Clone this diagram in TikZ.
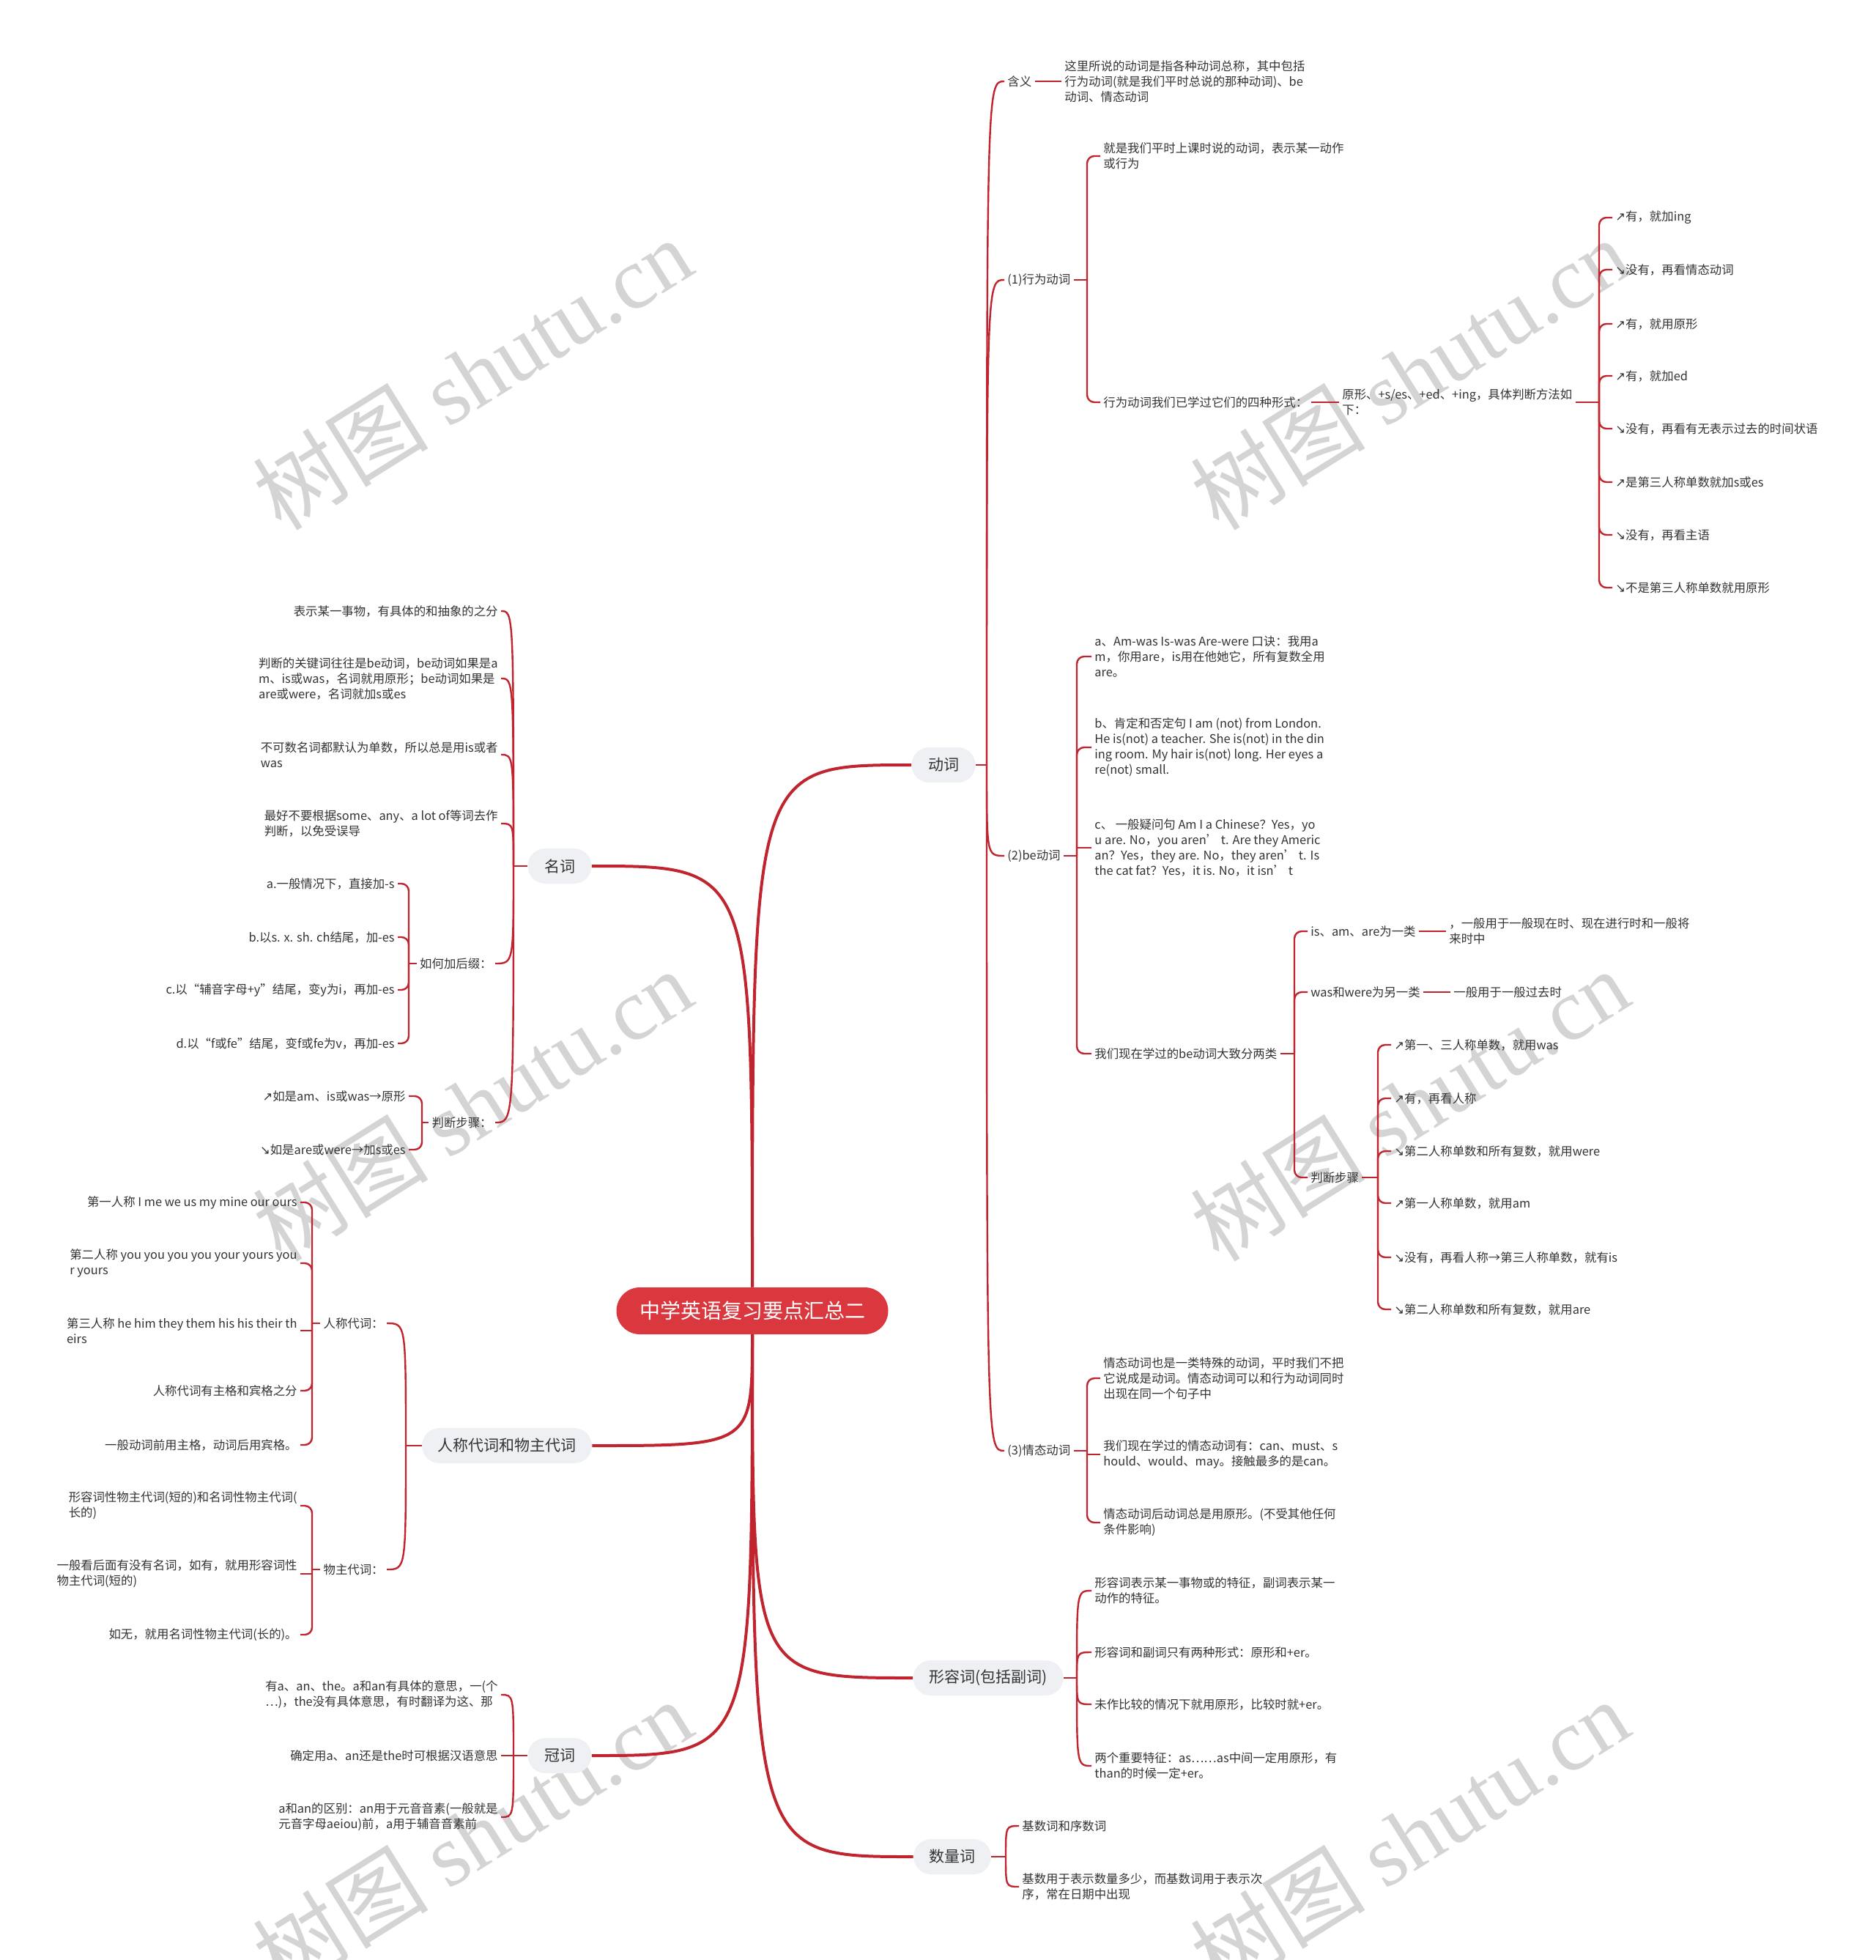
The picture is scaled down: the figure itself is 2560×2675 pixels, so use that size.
\documentclass[tikz,border=0pt]{standalone}
\usepackage{fontspec}
\setmainfont{Noto Sans CJK SC}
\newfontfamily\dv{DejaVu Sans}
\newfontfamily\wmser{Liberation Serif}
\usetikzlibrary{calc}
\definecolor{lred}{RGB}{192,36,46}
\definecolor{tred}{RGB}{218,56,62}
\definecolor{mgray}{RGB}{238,240,243}
\definecolor{txt}{RGB}{51,51,51}
\definecolor{wmc}{RGB}{212,212,212}
\tikzset{
  leaf/.style={font=\fontsize{8.2}{10.5}\selectfont, text=txt, inner sep=2pt, align=left},
  rl/.style={leaf, anchor=west},
  ll/.style={leaf, anchor=east},
  mainbox/.style={fill=mgray, rounded corners=12pt, minimum height=24pt, inner sep=0pt, font=\fontsize{10.5}{12}\selectfont, text=txt},
  titlebox/.style={fill=tred, rounded corners=16pt, minimum height=32pt, minimum width=185.5pt, inner sep=0pt, font=\fontsize{14}{16}\selectfont, text=white},
  conn/.style={draw=lred, line width=1.2pt},
  mconn/.style={draw=lred, line width=2pt},
  elb/.style={conn, rounded corners=5pt},
  wmk/.style={text=wmc, font=\fontsize{60}{66}\selectfont, rotate=32, inner sep=0pt}
}
% junction to the right of parent, placed #3 left of child #2
\newcommand\rj[3]{\draw[conn] (#1.east) -- ($(#1.east -| #2.west)+(-#3,0)$) coordinate (#1j);}
\newcommand\lj[3]{\draw[conn] (#1.west) -- ($(#1.west -| #2.east)+(#3,0)$) coordinate (#1j);}
\newcommand\cv[2]{\draw[conn] (#1j) .. controls (#1j |- #2) .. (#2);}
\newcommand\el[2]{\draw[elb] (#1j) |- (#2);}
\newcommand\es[2]{\draw[conn] (#1j) |- (#2);}
\begin{document}
\begin{tikzpicture}[x=0.5pt,y=-0.5pt]
\useasboundingbox (0,0) rectangle (2560,2675);
\fill[white] (0,0) rectangle (2560,2675);
% watermarks
\foreach \wx/\wy [count=\wi] in {645/510,1924/510,645/1508,1924/1508,645/2505,1924/2505}
  \node[wmk] (wm\wi) at (\wx,\wy) {树图 {\wmser shutu.cn}};

% title
\node[titlebox] (t) at (1027,1789) {中学英语复习要点汇总二};

% main nodes
\node[mainbox, minimum width=43.5pt] (dc) at (1288,1044) {动词};
\node[mainbox, minimum width=102.5pt] (e0) at (1349,2290) {形容词(包括副词)};
\node[mainbox, minimum width=53pt] (f0) at (1300,2534) {数量词};
\node[mainbox, minimum width=43.5pt] (g0) at (764,1182) {名词};
\node[mainbox, minimum width=116pt] (h0) at (692,1973) {人称代词和物主代词};
\node[mainbox, minimum width=43.5pt] (i0) at (764,2396) {冠词};

\draw[mconn] (t.north) .. controls (t.north |- dc.west) .. (dc.west);
\draw[mconn] (t.north) .. controls (t.north |- g0.east) .. (g0.east);
\draw[mconn] (t.south) .. controls (t.south |- h0.east) .. (h0.east);
\draw[mconn] (t.south) .. controls (t.south |- i0.east) .. (i0.east);
\draw[mconn] (t.south) .. controls (t.south |- e0.west) .. (e0.west);
\draw[mconn] (t.south) .. controls (t.south |- f0.west) .. (f0.west);

% ===== 动词 =====
\node[rl] (d1) at (1371,111) {含义};
\node[rl] (d1a) at (1449,111) {这里所说的动词是指各种动词总称，其中包括\\行为动词(就是我们平时总说的那种动词)、be\\动词、情态动词};
\node[rl] (d2) at (1371,382) {(1)行为动词};
\node[rl] (d2a) at (1502,213) {就是我们平时上课时说的动词，表示某一动作\\或行为};
\node[rl] (d2b) at (1502,549) {行为动词我们已学过它们的四种形式：};
\node[rl] (d2c) at (1828,549) {原形、+s/es、+ed、+ing，具体判断方法如\\下：};
\node[rl] (k1) at (2201,297) {{\dv ↗}有，就加ing};
\node[rl] (k2) at (2201,368) {{\dv ↘}没有，再看情态动词};
\node[rl] (k3) at (2201,442) {{\dv ↗}有，就用原形};
\node[rl] (k4) at (2201,513) {{\dv ↗}有，就加ed};
\node[rl] (k5) at (2201,585) {{\dv ↘}没有，再看有无表示过去的时间状语};
\node[rl] (k6) at (2201,658) {{\dv ↗}是第三人称单数就加s或es};
\node[rl] (k7) at (2201,730) {{\dv ↘}没有，再看主语};
\node[rl] (k8) at (2201,802) {{\dv ↘}不是第三人称单数就用原形};
\node[rl] (d3) at (1371,1168) {(2)be动词};
\node[rl] (d3a) at (1490,896) {a、Am-was Is-was Are-were 口诀：我用a\\m，你用are，is用在他她它，所有复数全用\\are。};
\node[rl] (d3b) at (1490,1020) {b、肯定和否定句 I am (not) from London.\\He is(not) a teacher. She is(not) in the din\\ing room. My hair is(not) long. Her eyes a\\re(not) small.};
\node[rl] (d3c) at (1490,1157) {c、 一般疑问句 Am I a Chinese？Yes，yo\\u are. No，you aren’ t. Are they Americ\\an？Yes，they are. No，they aren’ t. Is\\ the cat fat？Yes，it is. No，it isn’ t};
\node[rl] (d3d) at (1490,1438) {我们现在学过的be动词大致分两类};
\node[rl] (d3d1) at (1785,1271) {is、am、are为一类};
\node[rl] (d3d1a) at (1974,1271) {，一般用于一般现在时、现在进行时和一般将\\来时中};
\node[rl] (d3d2) at (1785,1354) {was和were为另一类};
\node[rl] (d3d2a) at (1980,1354) {一般用于一般过去时};
\node[rl] (d3d3) at (1785,1607) {判断步骤};
\node[rl] (m1) at (1899,1426) {{\dv ↗}第一、三人称单数，就用was};
\node[rl] (m2) at (1899,1499) {{\dv ↗}有，再看人称};
\node[rl] (m3) at (1899,1571) {{\dv ↘}第二人称单数和所有复数，就用were};
\node[rl] (m4) at (1899,1642) {{\dv ↗}第一人称单数，就用am};
\node[rl] (m5) at (1899,1716) {{\dv ↘}没有，再看人称→第三人称单数，就有is};
\node[rl] (m6) at (1899,1787) {{\dv ↘}第二人称单数和所有复数，就用are};
\node[rl] (d4) at (1371,1980) {(3)情态动词};
\node[rl] (d4a) at (1502,1881) {情态动词也是一类特殊的动词，平时我们不把\\它说成是动词。情态动词可以和行为动词同时\\出现在同一个句子中};
\node[rl] (d4b) at (1502,1985) {我们现在学过的情态动词有：can、must、s\\hould、would、may。接触最多的是can。};
\node[rl] (d4c) at (1502,2078) {情态动词后动词总是用原形。(不受其他任何\\条件影响)};

\rj{dc}{d1}{24}
\foreach \ch in {d1,d2,d3,d4} {\cv{dc}{\ch.west}}
\draw[conn] (d1.east) -- (d1a.west);
\rj{d2}{d2a}{18}
\el{d2}{d2a.west} \el{d2}{d2b.west}
\draw[conn] (d2b.east) -- (d2c.west);
\rj{d2c}{k1}{18}
\foreach \ch in {k1,k2,k3,k4,k5,k6,k7,k8} {\el{d2c}{\ch.west}}
\rj{d3}{d3a}{20}
\el{d3}{d3a.west} \el{d3}{d3b.west} \es{d3}{d3c.west} \el{d3}{d3d.west}
\rj{d3d}{d3d1}{18}
\el{d3d}{d3d1.west} \el{d3d}{d3d2.west} \el{d3d}{d3d3.west}
\draw[conn] (d3d1.east) -- (d3d1a.west);
\draw[conn] (d3d2.east) -- (d3d2a.west);
\rj{d3d3}{m1}{18}
\foreach \ch in {m1,m2,m3,m4,m5,m6} {\el{d3d3}{\ch.west}}
\rj{d4}{d4a}{18}
\el{d4}{d4a.west} \es{d4}{d4b.west} \el{d4}{d4c.west}

% ===== 形容词 =====
\node[rl] (e1) at (1490,2171) {形容词表示某一事物或的特征，副词表示某一\\动作的特征。};
\node[rl] (e2) at (1490,2255) {形容词和副词只有两种形式：原形和+er。};
\node[rl] (e3) at (1490,2326) {未作比较的情况下就用原形，比较时就+er。};
\node[rl] (e4) at (1490,2410) {两个重要特征：as……as中间一定用原形，有\\than的时候一定+er。};
\rj{e0}{e1}{20}
\foreach \ch in {e1,e2,e3,e4} {\cv{e0}{\ch.west}}

% ===== 数量词 =====
\node[rl] (f1) at (1391,2492) {基数词和序数词};
\node[rl] (f2) at (1391,2575) {基数用于表示数量多少，而基数词用于表示次\\序，常在日期中出现};
\rj{f0}{f1}{18}
\foreach \ch in {f1,f2} {\cv{f0}{\ch.west}}

% ===== 名词 =====
\node[ll] (g1) at (684,834) {表示某一事物，有具体的和抽象的之分};
\node[ll] (g2) at (684,926) {判断的关键词往往是be动词，be动词如果是a\\m、is或was，名词就用原形；be动词如果是\\are或were，名词就加s或es};
\node[ll] (g3) at (684,1030) {不可数名词都默认为单数，所以总是用is或者\\was};
\node[ll] (g4) at (684,1124) {最好不要根据some、any、a lot of等词去作\\判断，以免受误导};
\node[ll] (g5) at (676,1315) {如何加后缀：};
\node[ll] (g5a) at (543,1206) {a.一般情况下，直接加-s};
\node[ll] (g5b) at (543,1279) {b.以s. x. sh. ch结尾，加-es};
\node[ll] (g5c) at (543,1351) {c.以“辅音字母+y”结尾，变y为i，再加-es};
\node[ll] (g5d) at (543,1424) {d.以“f或fe”结尾，变f或fe为v，再加-es};
\node[ll] (g6) at (676,1532) {判断步骤：};
\node[ll] (g6a) at (558,1496) {{\dv ↗}如是am、is或was→原形};
\node[ll] (g6b) at (558,1569) {{\dv ↘}如是are或were→加s或es};
\lj{g0}{g1}{17}
\foreach \ch in {g1,g2,g3,g4,g5,g6} {\cv{g0}{\ch.east}}
\lj{g5}{g5a}{15}
\foreach \ch in {g5a,g5b,g5c,g5d} {\el{g5}{\ch.east}}
\lj{g6}{g6a}{18}
\foreach \ch in {g6a,g6b} {\el{g6}{\ch.east}}

% ===== 人称代词和物主代词 =====
\node[ll] (h1) at (528,1806) {人称代词：};
\node[ll] (h1a) at (410,1641) {第一人称 I me we us my mine our ours};
\node[ll] (h1b) at (410,1724) {第二人称 you you you you your yours you\\r yours};
\node[ll] (h1c) at (410,1816) {第三人称 he him they them his his their th\\eirs};
\node[ll] (h1d) at (410,1898) {人称代词有主格和宾格之分};
\node[ll] (h1e) at (410,1972) {一般动词前用主格，动词后用宾格。};
\node[ll] (h2) at (528,2142) {物主代词：};
\node[ll] (h2a) at (410,2055) {形容词性物主代词(短的)和名词性物主代词(\\长的)};
\node[ll] (h2b) at (410,2148) {一般看后面有没有名词，如有，就用形容词性\\物主代词(短的)};
\node[ll] (h2c) at (410,2231) {如无，就用名词性物主代词(长的)。};
\lj{h0}{h1}{26}
\foreach \ch in {h1,h2} {\cv{h0}{\ch.east}}
\lj{h1}{h1a}{16}
\el{h1}{h1a.east} \el{h1}{h1b.east} \es{h1}{h1c.east} \el{h1}{h1d.east} \el{h1}{h1e.east}
\lj{h2}{h2a}{16}
\el{h2}{h2a.east} \es{h2}{h2b.east} \el{h2}{h2c.east}

% ===== 冠词 =====
\node[ll] (i1) at (684,2313) {有a、an、the。a和an有具体的意思，一(个\\…)，the没有具体意思，有时翻译为这、那};
\node[ll] (i2) at (684,2396) {确定用a、an还是the时可根据汉语意思};
\node[ll] (i3) at (684,2480) {a和an的区别：an用于元音音素(一般就是\\元音字母aeiou)前，a用于辅音音素前};
\lj{i0}{i1}{17}
\foreach \ch in {i1,i2,i3} {\cv{i0}{\ch.east}}
\end{tikzpicture}
\end{document}
